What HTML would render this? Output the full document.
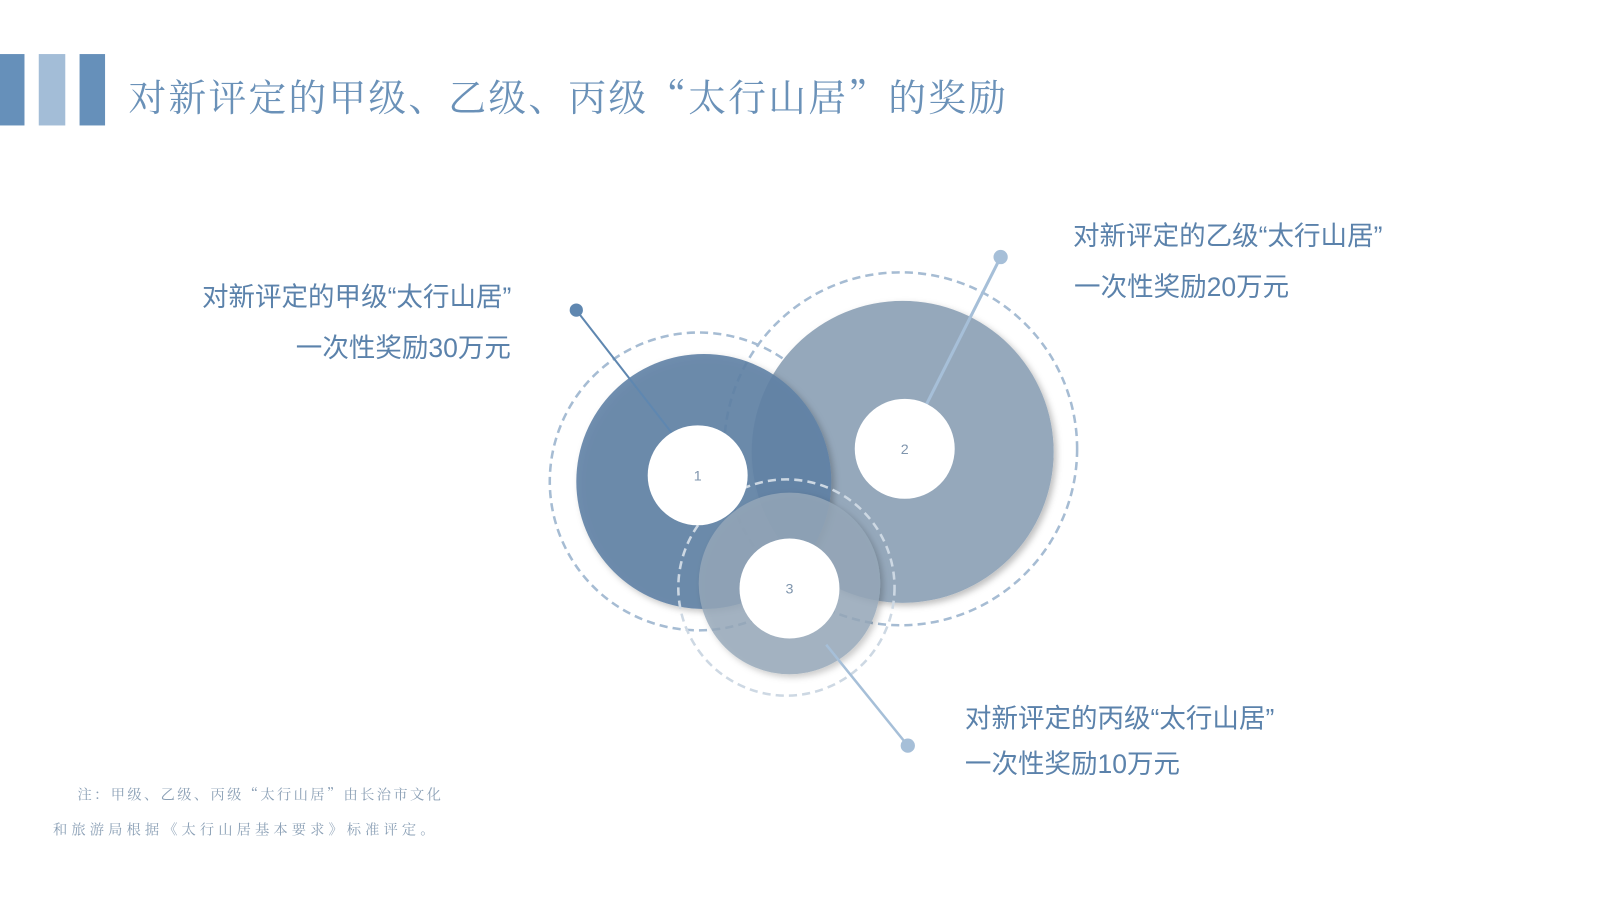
<!DOCTYPE html>
<html><head><meta charset="utf-8"><style>
body{margin:0;width:1600px;height:900px;background:#fff;position:relative;overflow:hidden;font-family:"Liberation Sans","Noto Sans CJK SC",sans-serif}
#w{position:absolute;left:0;top:0;width:1570px;height:883px;transform:scale(1.02);transform-origin:0 0}
.bar{position:absolute;top:53px;height:70px}
.t{position:absolute;white-space:nowrap;color:#5b82ab;font-size:26px}
.f{position:absolute;white-space:nowrap;font-size:14px;color:#8a9fb5;font-family:"Noto Serif CJK SC","Liberation Serif",serif}
</style></head><body><div id="w">
<div class="bar" style="left:0;width:24px;background:#6690ba"></div>
<div class="bar" style="left:38px;width:26px;background:#a3bdd7"></div>
<div class="bar" style="left:78px;width:25px;background:#6690ba"></div>
<div class="t" style="left:126px;top:66px;font-size:37px;letter-spacing:2.2px;color:#6a91b8;font-family:'Noto Serif CJK SC','Liberation Serif',serif">对新评定的甲级、乙级、丙级“太行山居”的奖励</div>
<svg width="1570" height="883" style="position:absolute;left:0;top:0">
<defs><filter id="s" x="-20%" y="-20%" width="140%" height="140%"><feDropShadow dx="3" dy="3" stdDeviation="3" flood-color="#000" flood-opacity="0.25"/></filter></defs>
<circle cx="883" cy="440" r="173" fill="none" stroke="#a6bcd3" stroke-width="2.5" stroke-dasharray="8 5"/>
<circle cx="685" cy="472" r="146" fill="none" stroke="#a6bcd3" stroke-width="2.5" stroke-dasharray="8 5"/>
<circle cx="885" cy="443" r="148" fill="#95a8bb" filter="url(#s)"/>
<circle cx="690" cy="472" r="125" fill="#5f82a5" fill-opacity="0.9" filter="url(#s)"/>
<circle cx="771" cy="576" r="106" fill="none" stroke="#cdd8e3" stroke-width="2.5" stroke-dasharray="8 5"/>
<circle cx="774" cy="572" r="89" fill="#96a8ba" fill-opacity="0.82" filter="url(#s)"/>
<line x1="565" y1="304" x2="666" y2="434" stroke="#5f87b0" stroke-width="2"/>
<circle cx="565" cy="304" r="6.5" fill="#5f87b0"/>
<line x1="981" y1="252" x2="908" y2="397" stroke="#a6bfd8" stroke-width="3"/>
<circle cx="981" cy="252" r="7" fill="#a6bfd8"/>
<line x1="890" y1="731" x2="810" y2="632" stroke="#a6bfd8" stroke-width="2.5"/>
<circle cx="890" cy="731" r="7" fill="#a6bfd8"/>
<circle cx="684" cy="466" r="49" fill="#fff"/>
<circle cx="887" cy="440" r="49" fill="#fff"/>
<circle cx="774" cy="577" r="49" fill="#fff"/>
<g font-family="Liberation Sans,sans-serif" font-size="14" fill="#7f95ad" text-anchor="middle">
<text x="684" y="471">1</text><text x="887" y="445">2</text><text x="774" y="582">3</text></g>
</svg>
<div class="t" style="left:198px;top:271px">对新评定的甲级“太行山居”</div>
<div class="t" style="left:290px;top:321px">一次性奖励30万元</div>
<div class="t" style="left:1052px;top:211px">对新评定的乙级“太行山居”</div>
<div class="t" style="left:1053px;top:261px">一次性奖励20万元</div>
<div class="t" style="left:946px;top:684px">对新评定的丙级“太行山居”</div>
<div class="t" style="left:946px;top:729px">一次性奖励10万元</div>
<div class="f" style="left:76px;top:769px;letter-spacing:2.3px">注：甲级、乙级、丙级“太行山居”由长治市文化</div>
<div class="f" style="left:52px;top:803px;letter-spacing:4px">和旅游局根据《太行山居基本要求》标准评定。</div>
</div></body></html>
